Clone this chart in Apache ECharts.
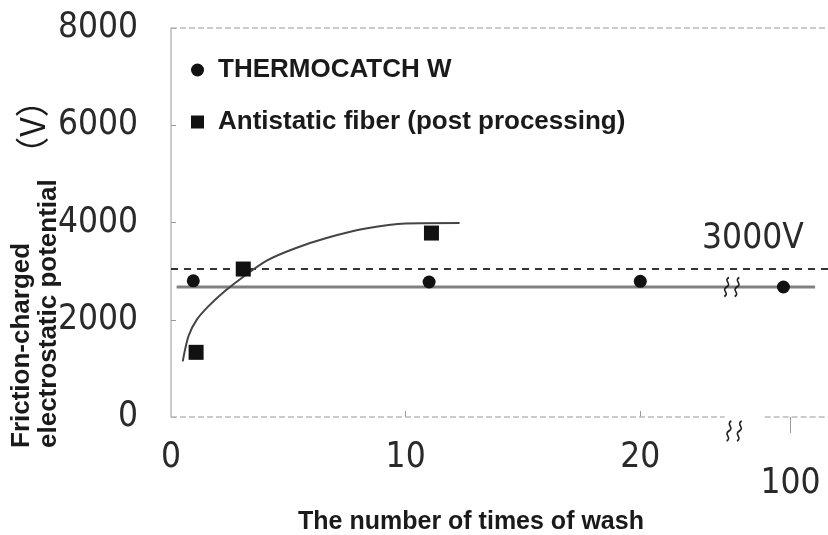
<!DOCTYPE html>
<html>
<head>
<meta charset="utf-8">
<script src="https://cdn.jsdelivr.net/npm/echarts@6/dist/echarts.min.js"></script>
<style>
  html, body { margin: 0; padding: 0; background: #fff; }
  #main { width: 828px; height: 535px; }
</style>
</head>
<body>
<div id="main"></div>
<script>
// wash count (x), 100 washes is drawn after the axis break
const thermoX = [0.95, 11, 20, 26.1];
const thermoY = [2800, 2776, 2790, 2673];
const antiX = [1.07, 3.08, 11.1];
const antiY = [1330, 3043, 3783];
// fitted curve for the antistatic fiber
const curveX = [0.5, 0.75, 1.1, 1.6, 2.3, 3.1, 4.1, 5.3, 6.7, 8.3, 10.0, 12.3];
const curveY = [1145, 1670, 2002, 2280, 2590, 2890, 3220, 3470, 3690, 3875, 3980, 3990];
const baseLevel = 2673; // solid line through THERMOCATCH W
const limitLevel = 3043; // dashed 3000V line
const yTicks = [0, 2000, 4000, 6000, 8000];
const xTicks = [0, 10, 20];
const breakPos = 26.4; // where "100" sits
const breakLabel = "100";

const numFont = "'Liberation Sans Narrow', 'DejaVu Sans Condensed', sans-serif";
const boldFont = "'Liberation Sans', Arial, sans-serif";

var chart = echarts.init(document.getElementById("main"));

// two wavy strokes marking the axis break
const breakSymbol = "path://M6,0 C1,4 9,8 4,12 C-1,16 7,20 2,24 M15,0 C10,4 18,8 13,12 C8,16 16,20 11,24";
const breakStyle = { color: "rgba(0,0,0,0)", borderColor: "#222", borderWidth: 1.8 };

var option = {
  animation: false,
  grid: { left: 171, right: 0, top: 28, bottom: 118 },
  legend: {
    orient: "vertical",
    left: 186,
    top: 50,
    itemWidth: 13,
    itemHeight: 13,
    itemGap: 22,
    textStyle: { fontFamily: boldFont, fontWeight: "bold", fontSize: 26, lineHeight: 30, color: "#1a1a1a", padding: [0, 0, 0, 9] },
    data: [
      { name: "THERMOCATCH W", icon: "circle" },
      { name: "Antistatic fiber (post processing)", icon: "rect" },
    ],
  },
  xAxis: [
    {
      type: "value",
      min: 0,
      max: 28,
      interval: 10,
      splitLine: { show: false },
      axisLine: { show: false },
      axisTick: { show: true, inside: true, length: 6, customValues: [10, 20], lineStyle: { color: "#999" } },
      axisLabel: {
        customValues: xTicks,
        formatter: (v) => String(v),
        margin: 23,
        fontFamily: numFont,
        fontSize: 35,
        color: "#2a2a2a",
      },
    },
    {
      type: "value",
      min: 0,
      max: 28,
      position: "bottom",
      splitLine: { show: false },
      axisLine: { show: false },
      axisTick: { show: true, inside: false, length: 16, customValues: [breakPos], lineStyle: { color: "#999" } },
      axisLabel: {
        customValues: [breakPos],
        formatter: () => breakLabel,
        margin: 49,
        fontFamily: numFont,
        fontSize: 35,
        color: "#2a2a2a",
      },
    },
  ],
  yAxis: {
    type: "value",
    min: 0,
    max: 8000,
    interval: 2000,
    splitLine: { show: false },
    axisLine: { show: true, lineStyle: { color: "#bbb", width: 1.5 } },
    axisTick: { show: true, inside: true, length: 5, lineStyle: { color: "#999" } },
    axisLabel: {
      customValues: yTicks,
      formatter: (v) => String(v),
      margin: 33,
      fontFamily: numFont,
      fontSize: 35,
      color: "#2a2a2a",
    },
  },
  graphic: [
    {
      type: "text",
      x: 22,
      y: 448,
      rotation: Math.PI / 2,
      style: { text: "Friction-charged", font: "bold 26px 'Liberation Sans', Arial, sans-serif", fill: "#1a1a1a", align: "left", verticalAlign: "middle" },
    },
    {
      type: "text",
      x: 49,
      y: 448,
      rotation: Math.PI / 2,
      style: { text: "electrostatic potential", font: "bold 26px 'Liberation Sans', Arial, sans-serif", fill: "#1a1a1a", align: "left", verticalAlign: "middle" },
    },
    {
      type: "text",
      x: 32,
      y: 127,
      rotation: Math.PI / 2,
      style: { text: "（V）", font: "34px 'Noto Sans CJK JP', sans-serif", fill: "#1a1a1a", align: "center", verticalAlign: "middle" },
    },
    {
      type: "text",
      x: 471,
      y: 522,
      style: { text: "The number of times of wash", font: "bold 25px 'Liberation Sans', Arial, sans-serif", fill: "#1a1a1a", align: "center", verticalAlign: "middle" },
    },
  ],
  series: [
    {
      name: "limit",
      type: "line",
      data: [[0, limitLevel], [28, limitLevel]],
      symbol: "none",
      lineStyle: { color: "#333", width: 2, type: [7, 6] },
      markLine: {
        // frame: bottom axis with a break, faint top border
        symbol: "none",
        silent: true,
        label: { show: false },
        lineStyle: { color: "#bbb", width: 1.5, type: "dashed" },
        data: [
          [{ coord: [0, 0] }, { coord: [23.6, 0] }],
          [{ coord: [25.3, 0] }, { coord: [28, 0] }],
          [{ coord: [0, 8000] }, { coord: [28, 8000] }],
        ],
      },
      markPoint: {
        silent: true,
        data: [
          {
            coord: [24.8, limitLevel],
            symbol: "circle",
            symbolSize: 1,
            itemStyle: { color: "rgba(0,0,0,0)" },
            label: { show: true, position: "inside", offset: [0, -30], formatter: "3000V", fontFamily: numFont, fontSize: 35, color: "#2a2a2a" },
          },
          {
            coord: [24.0, 0],
            symbol: breakSymbol,
            symbolSize: [15, 20],
            symbolOffset: [0, 14],
            itemStyle: breakStyle,
            label: { show: false },
          },
        ],
      },
    },
    {
      name: "base",
      type: "line",
      data: [[0.24, baseLevel], [27.45, baseLevel]],
      symbol: "none",
      lineStyle: { color: "#808080", width: 3 },
      markPoint: {
        silent: true,
        data: [
          {
            coord: [23.9, baseLevel],
            symbol: breakSymbol,
            symbolSize: [15, 19],
            symbolOffset: [0, 0],
            itemStyle: breakStyle,
            label: { show: false },
          },
        ],
      },
    },
    {
      name: "curve",
      type: "line",
      smooth: 0.3,
      symbol: "none",
      data: curveX.map((x, i) => [x, curveY[i]]),
      lineStyle: { color: "#444", width: 2 },
    },
    {
      name: "THERMOCATCH W",
      type: "scatter",
      symbol: "circle",
      symbolSize: 13,
      itemStyle: { color: "#111", opacity: 1 },
      data: thermoX.map((x, i) => [x, thermoY[i]]),
      z: 5,
    },
    {
      name: "Antistatic fiber (post processing)",
      type: "scatter",
      symbol: "rect",
      symbolSize: 15,
      itemStyle: { color: "#111", opacity: 1 },
      data: antiX.map((x, i) => [x, antiY[i]]),
      z: 5,
    },
  ],
};

chart.setOption(option);
</script>
</body>
</html>
